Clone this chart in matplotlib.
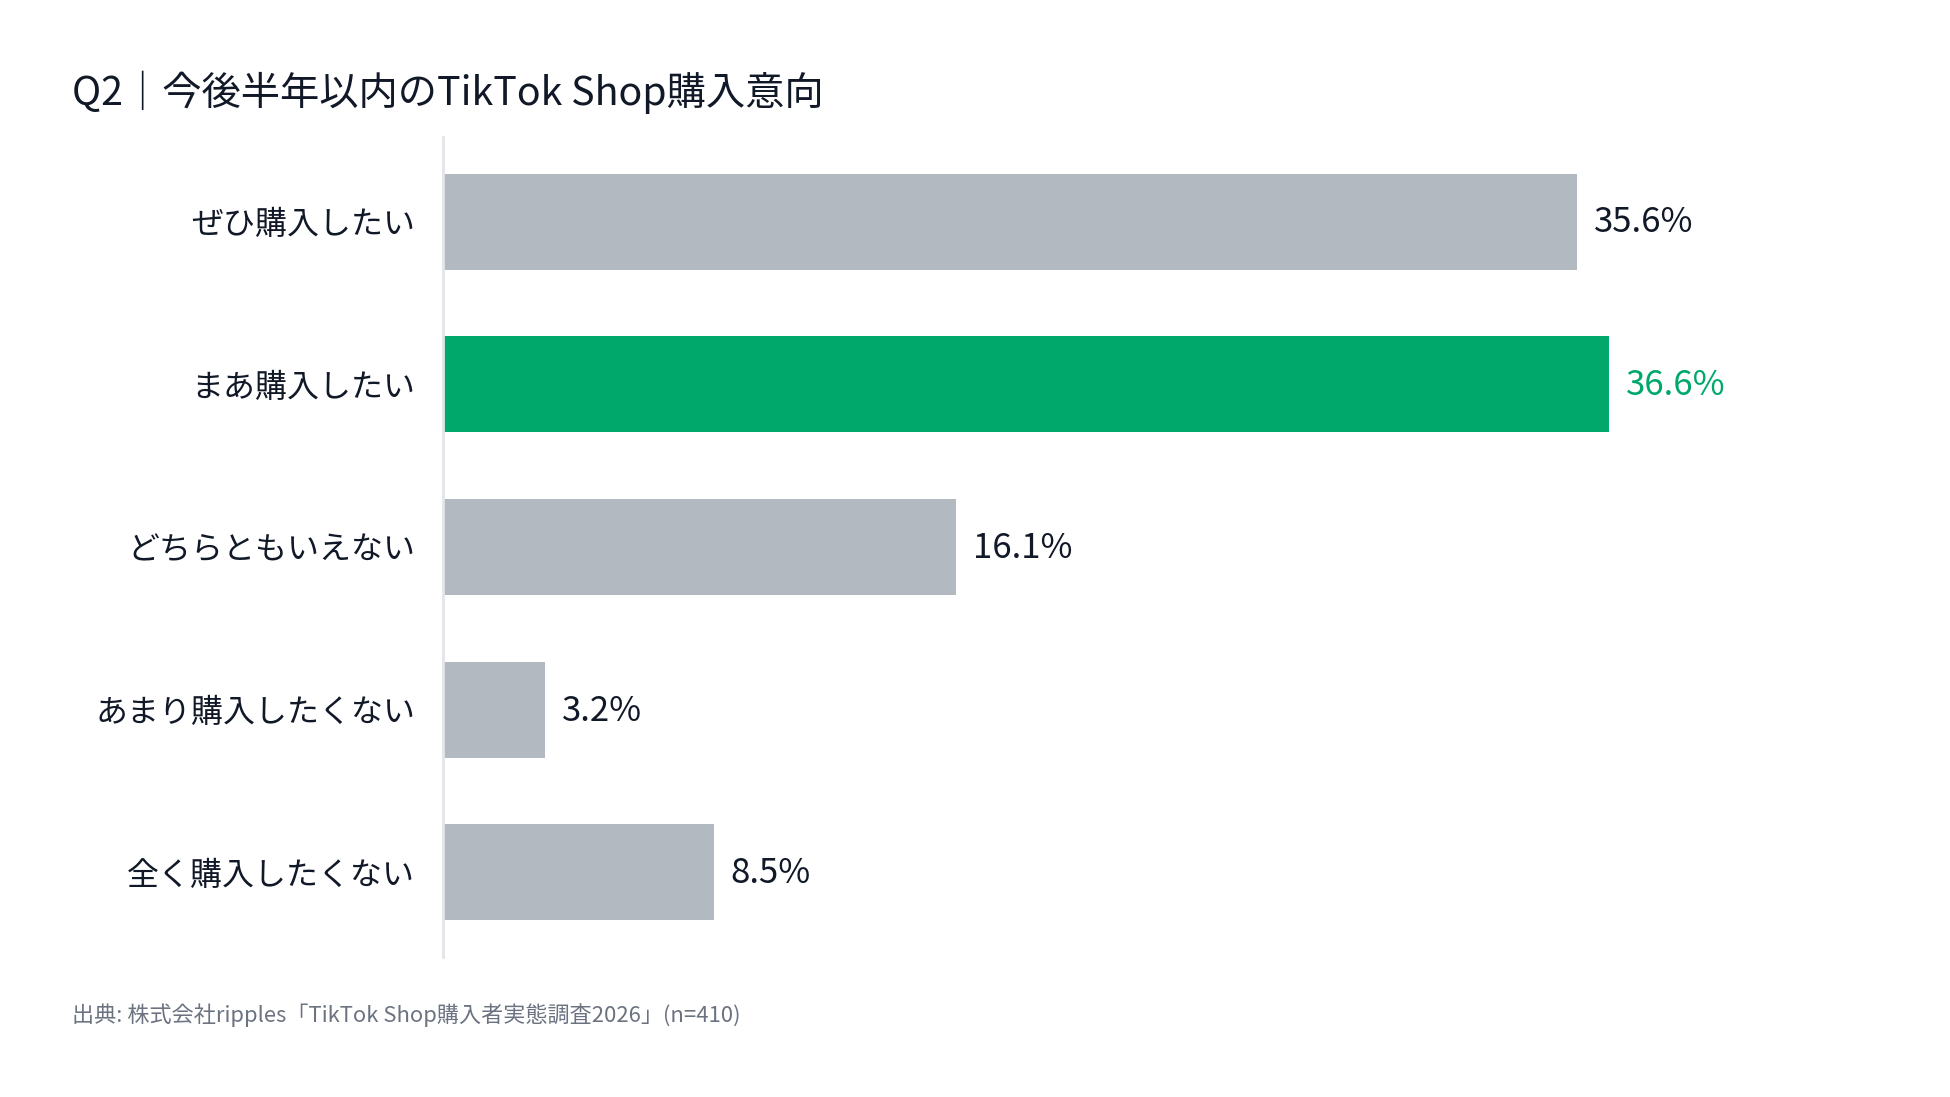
import matplotlib.pyplot as plt

plt.rcParams['font.family'] = ['Noto Sans CJK JP', 'DejaVu Sans']

categories = ["ぜひ購入したい", "まあ購入したい", "どちらともいえない", "あまり購入したくない", "全く購入したくない"]
values = [35.6, 36.6, 16.1, 3.2, 8.5]
highlight = 1

title = "Q2｜今後半年以内のTikTok Shop購入意向"
source = "出典: 株式会社ripples「TikTok Shop購入者実態調査2026」(n=410)"

GRAY = "#b3b9c0"
GREEN = "#00a86b"
DARK = "#111827"

W, H = 1950, 1097
fig = plt.figure(figsize=(W / 100, H / 100), dpi=100)
fig.patch.set_facecolor("white")

# axes placed by pixel
left, right, top, bottom = 443, 1900, 137, 957
ax = fig.add_axes([left / W, 1 - bottom / H, (right - left) / W, (bottom - top) / H])

ypos = list(range(len(values)))
colors = [GREEN if i == highlight else GRAY for i in ypos]
ax.barh(ypos, values, height=0.59, color=colors, zorder=2)

ax.set_xlim(0, (right - left) / 31.86)
ax.set_ylim(4.52, -0.52)

for i, v in enumerate(values):
    c = GREEN if i == highlight else DARK
    ax.annotate(f"{v}%", xy=(v, i), xytext=(12, -1), textcoords="offset points",
                ha="left", va="center", fontsize=25, color=c)

ax.set_yticks(ypos)
ax.set_yticklabels(categories, fontsize=23, color=DARK)
ax.tick_params(axis="y", length=0, pad=20)
ax.set_xticks([])

for s in ["top", "right", "bottom"]:
    ax.spines[s].set_visible(False)
ax.spines["left"].set_color("#e3e5e8")
ax.spines["left"].set_linewidth(2)

fig.text(72 / W, 1 - 92 / H, title, fontsize=28.3, color=DARK, ha="left", va="center")
fig.text(72 / W, 1 - 1015 / H, source, fontsize=15.9, color="#6b7280", ha="left", va="center")

fig.savefig("out.png", dpi=100, facecolor="white")
